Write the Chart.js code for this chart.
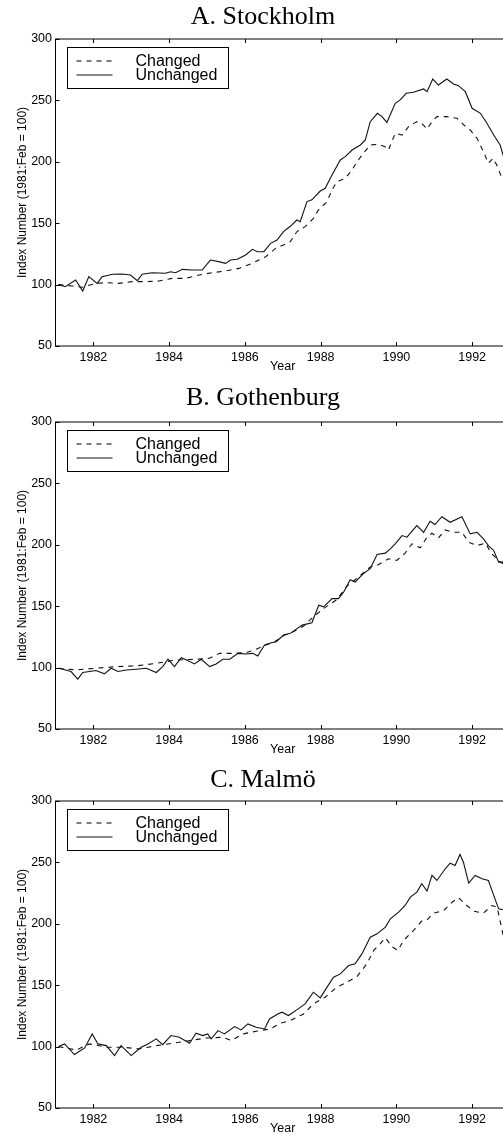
<!DOCTYPE html>
<html>
<head>
<meta charset="utf-8">
<script src="https://cdn.jsdelivr.net/npm/chart.js@4.4.1/dist/chart.umd.min.js"></script>
<style>
  html, body { margin: 0; padding: 0; background: #fff; }
  body { width: 503px; height: 1136px; overflow: hidden; position: relative; }
  .panel { position: absolute; left: 0; width: 526px; height: 375px; }
</style>
</head>
<body>
<div class="panel" style="top:0px"><canvas id="chartA"></canvas></div>
<div class="panel" style="top:382.7px"><canvas id="chartB"></canvas></div>
<div class="panel" style="top:762px"><canvas id="chartC"></canvas></div>
<script>
// ---- data (index, 1981:Feb = 100) ----
const xTicks = [1982, 1984, 1986, 1988, 1990, 1992];
const yTicks = [50, 100, 150, 200, 250, 300];

// A. Stockholm
const stockholmUnchYears = [1981.08,1981.26,1981.53,1981.72,1981.88,1982.1,1982.23,1982.5,1982.76,1982.98,1983.16,1983.29,1983.55,1983.9,1984.04,1984.17,1984.35,1984.6,1984.87,1985.09,1985.31,1985.49,1985.62,1985.8,1986.02,1986.2,1986.33,1986.5,1986.68,1986.85,1987.02,1987.2,1987.37,1987.46,1987.64,1987.77,1987.99,1988.12,1988.3,1988.52,1988.65,1988.83,1989.05,1989.18,1989.31,1989.5,1989.62,1989.75,1989.97,1990.1,1990.26,1990.45,1990.72,1990.81,1990.96,1991.11,1991.33,1991.51,1991.64,1991.82,1992.0,1992.22,1992.39,1992.57,1992.74,1992.83];
const stockholmUnch = [100,98.3,103.7,94.8,106.5,101,106.5,108.4,108.6,107.8,103.2,108.4,109.7,109.2,110.5,109.7,112.4,111.9,111.9,120,118.7,117.3,120,120.6,124.1,128.7,126.8,126.8,133.6,136.3,143.1,147.5,152.6,151.2,167.6,169,176.2,178.4,189.3,201.5,204.2,209.6,213.7,217.8,232.7,239.5,236.8,232.1,247.6,250.4,255.8,256.6,259.3,257.1,267.4,262.5,267.4,263.4,262,257.1,243.6,239.5,231.4,221.8,213.7,204.2];
const stockholmChgYears = [1981.08,1981.44,1981.7,1982.06,1982.32,1982.67,1983.02,1983.38,1983.73,1984.08,1984.43,1984.79,1985.14,1985.49,1985.84,1986.19,1986.55,1986.81,1986.93,1987.2,1987.37,1987.59,1987.81,1987.94,1988.17,1988.3,1988.43,1988.65,1988.83,1988.96,1989.13,1989.31,1989.53,1989.7,1989.79,1989.97,1990.15,1990.32,1990.54,1990.67,1990.81,1990.94,1991.07,1991.33,1991.6,1991.78,1991.95,1992.13,1992.3,1992.43,1992.55,1992.65,1992.79];
const stockholmChg = [100,98.9,97.8,101,101.6,101,102.4,102.4,102.9,105.1,105.1,107.8,109.7,111.1,113.2,117.3,122.7,129.5,131,135,143,147.2,154,160.7,167.6,177,183.8,186.5,193.3,200.1,206.9,213.7,214.2,212.3,209.6,223.2,221.8,228.6,232.7,231.3,226.7,232.7,236.8,236.8,235.4,230,225.9,219.1,208.2,198.8,202.8,197.4,186.5];

// B. Gothenburg
const gothenburgUnchYears = [1981.08,1981.19,1981.41,1981.59,1981.72,1981.9,1982.07,1982.29,1982.47,1982.65,1982.87,1983.13,1983.4,1983.66,1983.83,1983.97,1984.14,1984.32,1984.49,1984.67,1984.85,1985.07,1985.24,1985.42,1985.6,1985.82,1986.04,1986.21,1986.34,1986.52,1986.7,1986.83,1987.02,1987.2,1987.51,1987.77,1987.95,1988.08,1988.3,1988.47,1988.61,1988.78,1988.91,1989.13,1989.31,1989.49,1989.71,1989.84,1989.97,1990.15,1990.28,1990.54,1990.72,1990.89,1991.02,1991.2,1991.42,1991.73,1991.95,1992.13,1992.3,1992.43,1992.57,1992.7,1992.83];
const gothenburgUnch = [99.5,98.7,96.8,90.6,96,96.8,97.6,94.9,99.5,96.8,98.1,98.7,99.5,96,100.8,106.8,100.8,108.1,105.7,103,106.8,100.8,103,106.8,106.8,111.6,111.1,111.6,109.5,118.4,120.3,121.1,126.5,127.9,134.6,136.5,150.8,149.5,156.2,156.2,161.6,171.6,169.7,176.5,180.5,192.1,193.2,196.7,200.8,207.5,206.2,215.6,210.2,219.2,216.5,222.9,218.3,222.9,208.9,210.2,204.8,199.4,195.4,185.9,185.9];
const gothenburgChgYears = [1981.08,1981.55,1982.07,1982.6,1983.13,1983.66,1984.19,1984.72,1985.07,1985.33,1985.68,1986.04,1986.3,1986.56,1986.83,1987.05,1987.2,1987.55,1987.81,1988.08,1988.43,1988.69,1989.0,1989.31,1989.49,1989.79,1990.01,1990.23,1990.41,1990.63,1990.81,1990.94,1991.11,1991.29,1991.51,1991.73,1991.91,1992.13,1992.35,1992.52,1992.74,1992.83];
const gothenburgChg = [99.5,98.1,99.5,100.8,101.4,103.5,106.2,106.8,107.6,111.6,111.6,112.2,114.9,118.4,121.9,126.5,127.9,133.8,141.4,148.1,155.4,166.2,173.8,181.9,183.2,188.6,187.3,193.2,200.8,197.6,206.2,209.4,205.6,212.1,210.2,210.2,202.1,199.4,201.3,192.7,185.9,184.5];

// C. Malmö
const malmoUnchYears = [1981.08,1981.24,1981.5,1981.77,1981.97,1982.12,1982.34,1982.56,1982.73,1983.0,1983.26,1983.44,1983.66,1983.83,1984.05,1984.27,1984.54,1984.71,1984.89,1985.02,1985.11,1985.29,1985.46,1985.73,1985.9,1986.08,1986.3,1986.52,1986.65,1986.87,1986.98,1987.15,1987.37,1987.59,1987.81,1987.99,1988.17,1988.34,1988.52,1988.74,1988.91,1989.09,1989.31,1989.49,1989.71,1989.84,1990.06,1990.23,1990.37,1990.54,1990.67,1990.81,1990.94,1991.07,1991.29,1991.42,1991.55,1991.68,1991.77,1991.91,1992.08,1992.26,1992.43,1992.57,1992.7,1992.83];
const malmoUnch = [100,102.2,93.5,98.9,110.3,102.2,100.8,92.7,100.8,92.7,99.5,102.2,106.3,101.6,109,107.6,102.7,110.9,109,110.3,106.3,113,110.3,116.3,113.6,118.5,115.8,114.4,122.5,126.6,128,125.3,129.9,134.8,144.3,139.7,148.4,156.5,159.2,166,167.4,175.5,189.1,191.8,197.3,204.1,209.5,214.9,221.7,225.8,232.6,226.6,239.4,235.3,244.8,249.4,247.5,256.5,250.2,233.1,239.4,236.7,235.3,223.1,212.2,211.4];
const malmoChgYears = [1981.08,1981.55,1981.9,1982.34,1982.78,1983.22,1983.66,1984.1,1984.54,1984.98,1985.42,1985.64,1985.95,1986.3,1986.52,1986.67,1986.93,1987.2,1987.55,1987.81,1988.12,1988.43,1988.69,1988.96,1989.22,1989.4,1989.57,1989.71,1989.88,1990.04,1990.19,1990.45,1990.67,1990.81,1990.98,1991.25,1991.47,1991.64,1991.86,1992.04,1992.3,1992.52,1992.66,1992.83];
const malmoChg = [100,97.3,102.2,99.5,99.5,98.1,100.8,102.7,104.9,107,107.6,104.9,110.3,112.5,113.6,114.4,119,121.2,126.6,134.8,140.2,148.4,152.4,157.1,167.4,178.3,183.7,188.6,181.5,178.3,186.4,194.5,202.2,203.2,208.7,210.8,217.6,221.2,214.9,210.3,208.7,214.9,213.6,189.1];

const SANS = '"Liberation Sans", Arial, Helvetica, sans-serif';
const SERIF = '"Liberation Serif", "Times New Roman", serif';

function pairs(xs, ys){
  return xs.map((x, i) => ({ x: x, y: ys[i] }));
}

// box + inward tick marks, like the original matlab-style frame
const framePlugin = {
  id: 'frame',
  afterDraw(chart){
    const { ctx, chartArea: a, scales } = chart;
    ctx.save();
    ctx.strokeStyle = '#000';
    ctx.lineWidth = 1;
    ctx.strokeRect(a.left, a.top, a.right - a.left, a.bottom - a.top);
    ctx.beginPath();
    scales.x.ticks.forEach(t => {
      const px = Math.round(scales.x.getPixelForValue(t.value)) + 0.5;
      ctx.moveTo(px, a.bottom); ctx.lineTo(px, a.bottom - 4);
      ctx.moveTo(px, a.top);    ctx.lineTo(px, a.top + 4);
    });
    scales.y.ticks.forEach(t => {
      const py = Math.round(scales.y.getPixelForValue(t.value)) + 0.5;
      ctx.moveTo(a.left, py); ctx.lineTo(a.left + 4, py);
    });
    ctx.stroke();
    ctx.restore();
  }
};

// legend drawn inside the plot with a border box
const boxLegend = {
  id: 'boxLegend',
  afterDatasetsDraw(chart){
    const { ctx, chartArea: a } = chart;
    const bx = Math.round(a.left + 11) + 0.5, by = Math.round(a.top + 7.5) + 0.5;
    const bw = 161, bh = 41;
    ctx.save();
    ctx.fillStyle = '#fff';
    ctx.fillRect(bx, by, bw, bh);
    ctx.strokeStyle = '#000';
    ctx.lineWidth = 1;
    ctx.strokeRect(bx, by, bw, bh);
    ctx.font = '16px ' + SANS;
    ctx.textBaseline = 'middle';
    chart.data.datasets.forEach((ds, i) => {
      const ry = by + 13.5 + i * 14;
      ctx.setLineDash(ds.borderDash || []);
      ctx.lineWidth = ds.borderWidth;
      ctx.strokeStyle = ds.borderColor;
      ctx.beginPath();
      ctx.moveTo(bx + 9, ry);
      ctx.lineTo(bx + 45, ry);
      ctx.stroke();
      ctx.setLineDash([]);
      ctx.fillStyle = '#000';
      ctx.fillText(ds.label, bx + 68, ry + 1);
    });
    ctx.restore();
  }
};

function makeChart(id, title, titleTop, unchX, unchY, chgX, chgY){
  return new Chart(document.getElementById(id), {
    type: 'line',
    data: {
      datasets: [
        { label: 'Changed', data: pairs(chgX, chgY), xAxisID: 'x', yAxisID: 'y',
          borderColor: '#111', borderWidth: 1.1, borderDash: [5, 5], pointRadius: 0, tension: 0, fill: false },
        { label: 'Unchanged', data: pairs(unchX, unchY), xAxisID: 'x', yAxisID: 'y',
          borderColor: '#111', borderWidth: 1.1, pointRadius: 0, tension: 0, fill: false }
      ]
    },
    options: {
      responsive: true,
      maintainAspectRatio: false,
      animation: false,
      events: [],
      layout: { padding: 0 },
      plugins: {
        legend: { display: false },
        tooltip: { enabled: false },
        title: {
          display: true, text: title, color: '#000',
          font: { family: SERIF, size: 26, weight: 'normal', lineHeight: 1 },
          padding: { top: titleTop, bottom: 13 - titleTop }
        }
      },
      scales: {
        x: {
          type: 'linear', min: 1981, max: 1993,
          border: { display: false },
          grid: { display: false, drawTicks: false },
          afterBuildTicks: s => { s.ticks = xTicks.map(v => ({ value: v })); },
          afterFit: s => { s.height = 29; },
          ticks: { padding: 4, color: '#000', maxRotation: 0, autoSkip: false,
                   font: { family: SANS, size: 12.5 }, callback: v => String(v) },
          title: { display: true, text: 'Year', color: '#000',
                   font: { family: SANS, size: 12.5 }, padding: { top: 0, bottom: 1 } }
        },
        y: {
          type: 'linear', min: 50, max: 300,
          border: { display: false },
          grid: { display: false, drawTicks: false },
          afterBuildTicks: s => { s.ticks = yTicks.map(v => ({ value: v })); },
          afterFit: s => { s.width = 55.5; },
          ticks: { padding: 3.5, color: '#000', font: { family: SANS, size: 12.5 } },
          title: { display: true, text: 'Index Number (1981:Feb = 100)', color: '#000',
                   font: { family: SANS, size: 12 }, padding: { top: 15, bottom: 0 } }
        },
        yR: {
          type: 'linear', position: 'right', display: true,
          border: { display: false },
          grid: { display: false, drawTicks: false },
          ticks: { display: false },
          afterFit: s => { s.width = 16; }
        }
      }
    },
    plugins: [framePlugin, boxLegend]
  });
}

makeChart('chartA', 'A. Stockholm', 4.5, stockholmUnchYears, stockholmUnch, stockholmChgYears, stockholmChg);
makeChart('chartB', 'B. Gothenburg', 2, gothenburgUnchYears, gothenburgUnch, gothenburgChgYears, gothenburgChg);
makeChart('chartC', 'C. Malmö', 5, malmoUnchYears, malmoUnch, malmoChgYears, malmoChg);
</script>
</body>
</html>
